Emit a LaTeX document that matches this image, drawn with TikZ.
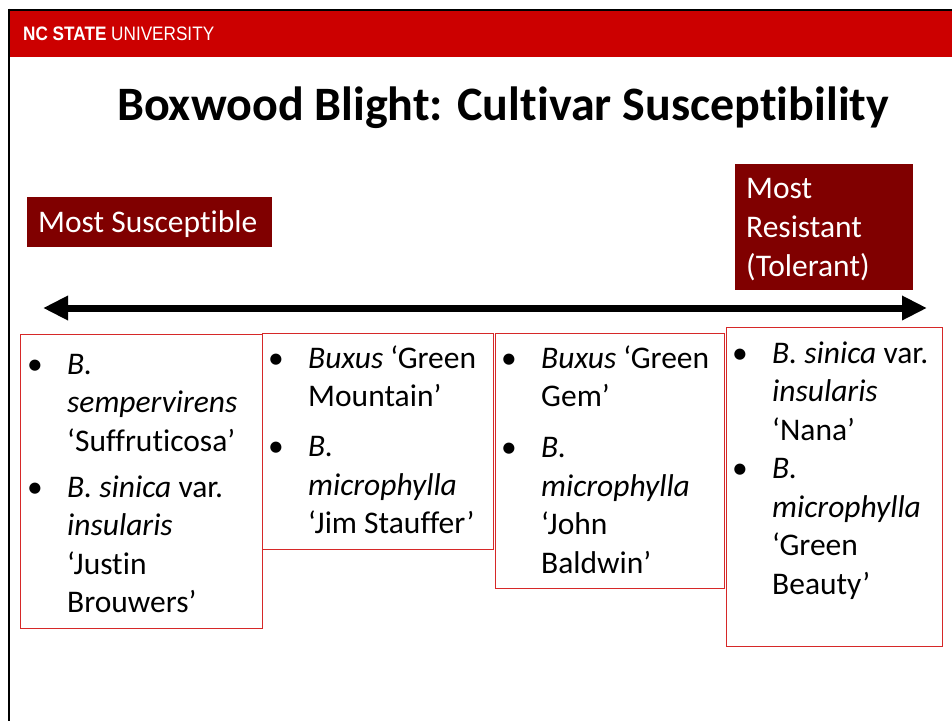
\documentclass[tikz,border=0pt]{standalone}
\usepackage{fontspec}
\setmainfont{Carlito}[Ligatures=NoCommon]
\newfontfamily\hdrfont[FakeStretch=0.88]{Liberation Sans}
\usetikzlibrary{arrows.meta,positioning}
\definecolor{ncsured}{RGB}{204,0,0}
\definecolor{tagred}{RGB}{128,0,0}
\definecolor{boxred}{RGB}{214,40,40}
\tikzset{%
   hdr/.style={
      anchor=base west,
      inner sep=0pt,
      text=white,
      font=\hdrfont\fontsize{19.5pt}{20pt}\selectfont
   },
   ttl/.style={
      anchor=base,
      inner sep=0pt,
      font=\bfseries\fontsize{48pt}{56pt}\selectfont
   },
   tag/.style={
      fill=tagred,
      text=white,
      anchor=base west,
      inner ysep=0pt,
      inner xsep=11pt,
      align=flush left,
      font=\fontsize{31.5pt}{39pt}\selectfont
   },
   cultbox/.style={
      draw=boxred,
      line width=1.2pt,
      anchor=north west,
      inner sep=0pt
   },
   cultlist/.style={
      inner sep=0pt,
      text width=200pt,
      align=flush left,
      font=\fontsize{31.5pt}{38.5pt}\selectfont
   },
   arrowline/.style={
      line width=7pt,
      {Triangle[length=25pt, width=23pt]}-{Triangle[length=25pt, width=23pt]}
   },
}
\newcommand\blt{\leavevmode\llap{\textbullet\hspace{24.5pt}}}

\begin{document}
\begin{tikzpicture}[x=1pt, y=1pt]
   \useasboundingbox (0,0) rectangle (952,-721);
   % slide frame and header bar
   \fill[ncsured] (10,-11) rectangle (952,-57);
   \draw[line width=2pt] (8,-9.5) -- (952,-9.5);
   \draw[line width=2pt] (8.5,-8.5) -- (8.5,-721);
   \node[hdr] (ncsu) at (23,-40) {\textbf{NC STATE} UNIVERSITY};
   \node[ttl] (title) at (503,-120) {Boxwood Blight: Cultivar Susceptibility};

   % end labels
   \node[tag, text width=223pt, text height=35pt, text depth=15pt] (susc) at (27,-232) {Most Susceptible};
   \node[tag, text width=156pt, text height=34pt, text depth=92pt] (resist) at (735,-198) {Most\\Resistant\\(Tolerant)};

   % scale arrow
   \coordinate (lend) at (43,-308);
   \coordinate (rend) at (927,-308);
   \draw[arrowline] (lend) -- (rend);

   % cultivar boxes
   \node[cultbox, minimum width=242pt, minimum height=294pt] (box1) at (20,-334) {};
   \node[cultbox, minimum width=231pt, minimum height=216pt] (box2) at (262,-333) {};
   \node[cultbox, minimum width=229pt, minimum height=255pt] (box3) at (495,-333) {};
   \node[cultbox, minimum width=216pt, minimum height=319pt] (box4) at (726,-327) {};

   \node[cultlist, below right=40pt and 47pt of box1.north west, anchor=base west] (list1)
      {\blt\textit{B.}\\\textit{sempervirens}\\‘Suffruticosa’\\[7.5pt]
       \blt\textit{B. sinica} var.\\\textit{insularis}\\‘Justin\\Brouwers’};
   \node[cultlist, below right=35pt and 46pt of box2.north west, anchor=base west] (list2)
      {\blt\textit{Buxus} ‘Green\\Mountain’\\[11.5pt]
       \blt\textit{B.}\\\textit{microphylla}\\‘Jim Stauffer’};
   \node[cultlist, below right=35pt and 46pt of box3.north west, anchor=base west] (list3)
      {\blt\textit{Buxus} ‘Green\\Gem’\\[12.5pt]
       \blt\textit{B.}\\\textit{microphylla}\\‘John\\Baldwin’};
   \node[cultlist, below right=36pt and 46pt of box4.north west, anchor=base west] (list4)
      {\blt\textit{B. sinica} var.\\\textit{insularis}\\‘Nana’\\
       \blt\textit{B.}\\\textit{microphylla}\\‘Green\\Beauty’};
\end{tikzpicture}
\end{document}
